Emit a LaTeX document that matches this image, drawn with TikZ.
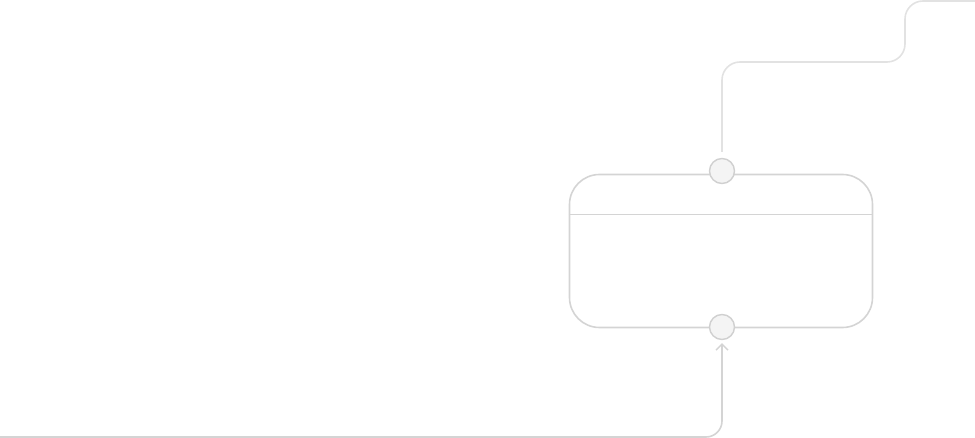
\documentclass[tikz,border=0pt]{standalone}
\usetikzlibrary{arrows.meta}
\definecolor{edgegray}{HTML}{D4D4D4}
\definecolor{fadegray}{HTML}{E2E2E2}
\definecolor{portfill}{HTML}{F4F4F4}
\definecolor{portline}{HTML}{D0D0D0}
\begin{document}
\begin{tikzpicture}[x=1pt,y=-1pt,
  boxstyle/.style={draw=edgegray,line width=1.6pt,rounded corners=30pt,minimum width=303pt,minimum height=153pt,inner sep=0pt},
  portstyle/.style={circle,draw=portline,fill=portfill,line width=1.4pt,minimum size=25pt,inner sep=0pt},
  wirestyle/.style={draw=edgegray,line width=1.6pt,rounded corners=16pt},
  fadewire/.style={draw=fadegray,line width=1.6pt,rounded corners=18pt}]
\useasboundingbox (0,0) rectangle (975,438);
\node[boxstyle] (box) at (721,251) {};
\draw[edgegray,line width=1.6pt] ([yshift=-41pt]box.north west) -- ([yshift=-41pt]box.north east);
\node[portstyle] (top) at (722,171) {};
\node[portstyle] (bot) at (722,327) {};
\coordinate (topend) at (975,1);
\coordinate (botstart) at (0,437);
\draw[fadewire] ([yshift=6pt]top.north) -- (722,62) -- (905,62) -- (905,1) -- (topend);
\draw[wirestyle,-{Straight Barb[length=6pt,width=12pt,line width=1.4pt]}] (botstart) -- (722,437) -- ([yshift=-3pt]bot.south);
\end{tikzpicture}
\end{document}
